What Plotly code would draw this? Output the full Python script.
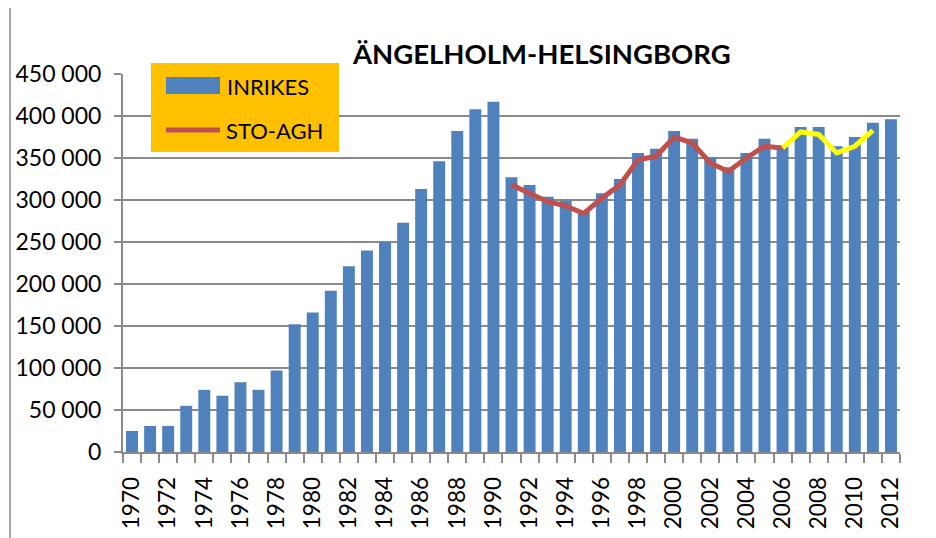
import plotly.graph_objects as go

years = list(range(1970, 2013))
inrikes = [25000, 31000, 31000, 55000, 74000, 67000, 83000, 74000, 97000, 152000,
           166000, 192000, 221000, 240000, 250000, 273000, 313000, 346000, 382000, 408000,
           417000, 327000, 318000, 304000, 299000, 286000, 308000, 325000, 356000, 361000,
           382000, 373000, 351000, 339000, 356000, 373000, 363000, 387000, 387000, 364000,
           375000, 392000, 396000]
sto_years = list(range(1991, 2007))
sto_agh = [318000, 308000, 298000, 293000, 284000, 302000, 318000, 348000,
           352000, 375000, 368000, 344000, 334000, 350000, 364000, 362000]
sto2_years = list(range(2006, 2012))
sto_agh2 = [362000, 381000, 378000, 356000, 364000, 383000]
xtick_years = list(range(1970, 2013, 2))

# page body has an 8px default margin, so figure coords = screen coords - 8
OFF = 8
W, H = 936, 538
L, R, T, B = 123 - OFF, 36 + OFF, 74 - OFF, 86 + OFF
PW, PH = W - L - R, H - T - B
FONT = "Lato"
GRID = "#8a8a8a"

def px(x):  # screen px -> paper
    return (x - OFF - L) / PW

def py(y):
    return (H - B - (y - OFF)) / PH

fig = go.Figure()
fig.add_trace(go.Bar(x=years, y=inrikes, name="INRIKES", marker_color="#4F81BD",
                     marker_line_width=0))
fig.add_trace(go.Scatter(x=sto_years, y=sto_agh, name="STO-AGH", mode="lines",
                         line=dict(color="#C0504D", width=5)))
fig.add_trace(go.Scatter(x=sto2_years, y=sto_agh2, name="STO-AGH 2", mode="lines",
                         line=dict(color="#FFFF00", width=5), showlegend=False))

shapes = [
    dict(type="rect", xref="paper", yref="paper", x0=px(151), x1=px(339), y0=py(152), y1=py(63),
         fillcolor="#FFC000", line_width=0, layer="above"),
    dict(type="rect", xref="paper", yref="paper", x0=px(166), x1=px(220), y0=py(94), y1=py(77),
         fillcolor="#4F81BD", line_width=0, layer="above"),
    dict(type="line", xref="paper", yref="paper", x0=px(166), x1=px(220), y0=py(130), y1=py(130),
         line=dict(color="#C0504D", width=5), layer="above"),
    dict(type="line", xref="paper", yref="paper", x0=px(10), x1=px(10), y0=-1, y1=2,
         line=dict(color="#8a8a8a", width=1.5), layer="above"),
]
annotations = [
    dict(text="INRIKES", xref="paper", yref="paper", x=px(225), y=py(86), xanchor="left",
         yanchor="middle", showarrow=False, font=dict(family=FONT, size=22, color="black")),
    dict(text="STO-AGH", xref="paper", yref="paper", x=px(224), y=py(130), xanchor="left",
         yanchor="middle", showarrow=False, font=dict(family=FONT, size=22, color="black")),
    dict(text="<b>ÄNGELHOLM-HELSINGBORG</b>", xref="paper", yref="paper", x=px(541), y=py(54),
         xanchor="center", yanchor="middle", showarrow=False, bgcolor="white", borderpad=7,
         font=dict(family=FONT, size=27.5, color="black")),
]

fig.update_layout(
    width=W, height=H, margin=dict(l=L, r=R, t=T, b=B, autoexpand=False),
    paper_bgcolor="white", plot_bgcolor="white",
    separators=", ", showlegend=False, bargap=0.34,
    shapes=shapes, annotations=annotations,
    xaxis=dict(range=[1969.5, 2012.5], tickvals=xtick_years, ticktext=[str(y) for y in xtick_years],
               tickangle=-90, ticks="", showgrid=False, showline=True, linecolor=GRID, linewidth=2,
               tickfont=dict(family=FONT, size=22.5, color="black"), ticklabelstandoff=14,
               minor=dict(ticks="outside", dtick=1, tick0=1969.5, ticklen=9, tickcolor=GRID,
                          tickwidth=1.5, showgrid=False),
               zeroline=False, automargin=False),
    yaxis=dict(range=[0, 450000], dtick=50000, tickformat=",d", showgrid=True, gridcolor=GRID,
               gridwidth=1.5, showline=True, linecolor=GRID, linewidth=2, ticks="outside",
               ticklen=7, tickcolor=GRID, tickwidth=1.5, zeroline=False, automargin=False,
               tickfont=dict(family=FONT, size=23, color="black"), ticklabelstandoff=8),
)

fig.write_html("out.html")
